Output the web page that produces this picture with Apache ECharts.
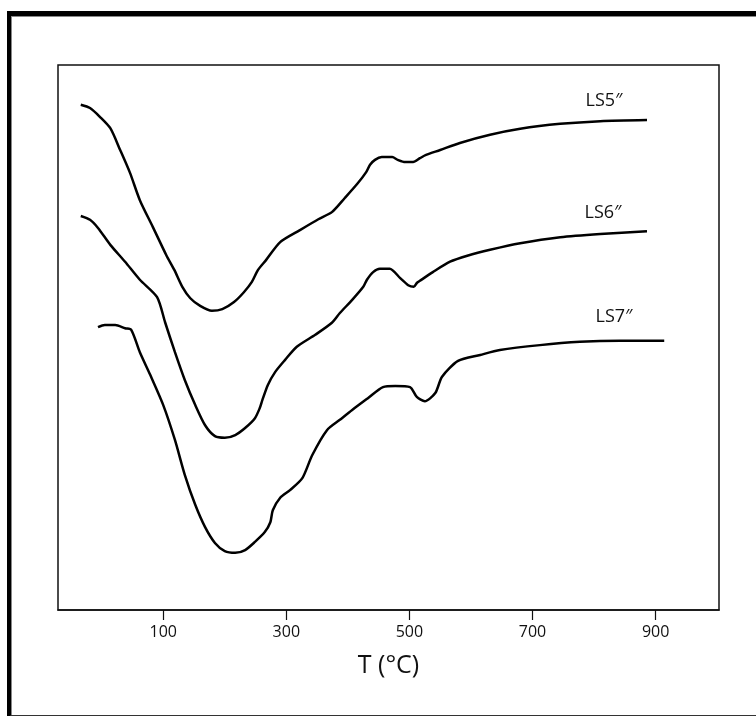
<!DOCTYPE html>
<html>
<head>
<meta charset="utf-8">
<script src="https://cdn.jsdelivr.net/npm/echarts@6/dist/echarts.min.js"></script>
<style>
  html, body { margin: 0; padding: 0; background: #fff; }
  #frame {
    position: absolute; left: 7px; top: 11px; width: 800px; height: 699px;
    border-left: 4px solid #000; border-top: 5px solid #000; border-bottom: 3px solid #333;
  }
  #frame .inner {
    position: absolute; left: 0; top: 0; right: 0; bottom: 0;
    border-left: 1px solid #888; border-top: 1px solid #888;
  }
  #chart { position: absolute; left: 0; top: 0; width: 756px; height: 716px; }
</style>
</head>
<body>
<div id="frame"><div class="inner"></div></div>
<div id="chart"></div>
<script>
// temperature (°C) and signal (arb. units, 0-100)
const names = ["LS5″", "LS6″", "LS7″"];
const tickValues = [100, 300, 500, 700, 900];

const ls5T = [-34, -19, -3, 14, 30, 46, 62, 83, 105, 118, 131, 144, 160, 179, 196, 215, 231, 244, 254, 267, 290, 322, 352, 374, 395, 416, 430, 436, 444, 455, 472, 481, 493, 506, 517, 527, 550, 582, 631, 680, 745, 810, 886];
const ls5Y = [92.7, 92.1, 90.5, 88.4, 84.4, 80.2, 75.2, 70.3, 65.1, 62.4, 59.3, 57.2, 55.8, 54.9, 55.2, 56.5, 58.3, 60.2, 62.4, 64.2, 67.5, 69.7, 71.7, 73.0, 75.6, 78.3, 80.4, 81.7, 82.6, 83.1, 83.1, 82.6, 82.2, 82.2, 82.9, 83.5, 84.4, 85.7, 87.2, 88.3, 89.2, 89.7, 89.9];

const ls6T = [-34, -19, -6, 14, 38, 62, 90, 103, 119, 135, 152, 168, 184, 200, 217, 233, 249, 257, 261, 270, 282, 298, 317, 347, 374, 387, 407, 425, 431, 441, 452, 468, 485, 498, 507, 512, 517, 538, 566, 594, 631, 680, 745, 810, 886];
const ls6Y = [72.3, 71.6, 70.1, 67.0, 63.9, 60.6, 57.4, 52.8, 47.3, 42.2, 37.6, 33.9, 31.9, 31.6, 32.1, 33.4, 35.2, 37.1, 38.5, 41.3, 43.7, 45.9, 48.3, 50.5, 52.7, 54.5, 56.9, 59.3, 60.6, 62.0, 62.6, 62.6, 60.9, 59.6, 59.3, 60.0, 60.4, 62.0, 63.9, 65.0, 66.1, 67.3, 68.4, 69.0, 69.5];

const ls7T = [-6, 5, 22, 38, 48, 62, 79, 100, 119, 135, 152, 168, 184, 200, 217, 233, 249, 265, 274, 278, 290, 306, 326, 342, 366, 387, 407, 433, 457, 477, 501, 512, 525, 542, 553, 579, 615, 647, 712, 777, 842, 914];
const ls7Y = [51.9, 52.3, 52.3, 51.7, 51.4, 47.3, 43.1, 37.6, 31.2, 24.8, 19.3, 15.2, 12.3, 10.8, 10.5, 11.0, 12.5, 14.3, 16.1, 18.3, 20.6, 22.0, 24.2, 28.4, 33.0, 34.9, 36.7, 38.9, 40.9, 41.1, 40.9, 39.1, 38.3, 39.8, 42.8, 45.7, 46.8, 47.7, 48.6, 49.2, 49.4, 49.4];

const curves = [[ls5T, ls5Y], [ls6T, ls6Y], [ls7T, ls7Y]];

const chart = echarts.init(document.getElementById("chart"));
const font = "'Open Sans', 'Noto Sans', sans-serif";

const option = {
  animation: false,
  backgroundColor: "transparent",
  grid: {
    left: 58, right: 37, top: 65, bottom: 106,
    show: true, borderColor: "#111", borderWidth: 1.5
  },
  xAxis: {
    type: "value",
    min: -71,
    max: 1003,
    name: "T (°C)",
    nameLocation: "middle",
    nameGap: 43,
    nameTextStyle: { fontFamily: font, fontSize: 25, color: "#111" },
    axisLine: { show: true, lineStyle: { color: "#111", width: 1.5 } },
    axisTick: { show: true, length: 10, inside: false, customValues: tickValues, lineStyle: { color: "#111", width: 1.2 } },
    axisLabel: { customValues: tickValues, margin: 14, fontFamily: font, fontSize: 16, color: "#111" },
    splitLine: { show: false }
  },
  yAxis: {
    type: "value",
    min: 0,
    max: 100,
    show: false
  },
  graphic: [
    { type: "text", x: 604, y: 101, style: { text: names[0], font: "18px " + font, fill: "#111", align: "center", verticalAlign: "middle" } },
    { type: "text", x: 603, y: 213, style: { text: names[1], font: "18px " + font, fill: "#111", align: "center", verticalAlign: "middle" } },
    { type: "text", x: 614, y: 317, style: { text: names[2], font: "18px " + font, fill: "#111", align: "center", verticalAlign: "middle" } }
  ],
  series: curves.map((c, k) => ({
    name: names[k],
    type: "line",
    smooth: 0.25,
    showSymbol: false,
    lineStyle: { color: "#000", width: 2.5 },
    data: c[0].map((t, i) => [t, c[1][i]])
  }))
};

chart.setOption(option);
</script>
</body>
</html>
